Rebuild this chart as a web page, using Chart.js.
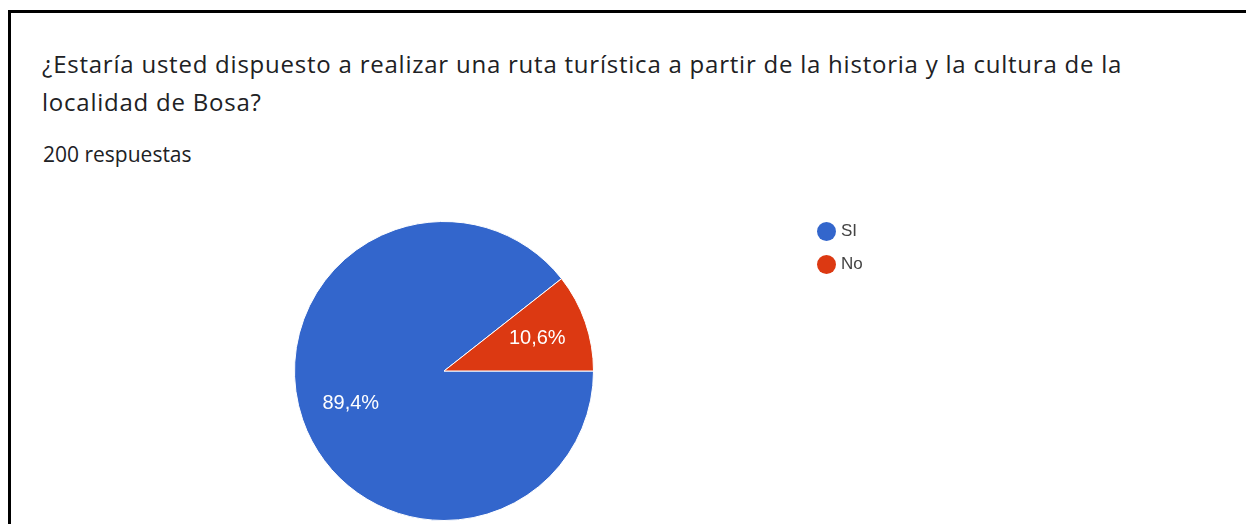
<!DOCTYPE html>
<html>
<head>
<meta charset="utf-8">
<script src="https://cdn.jsdelivr.net/npm/chart.js@4/dist/chart.umd.min.js"></script>
<style>
    html, body { margin: 0; padding: 0; background: #fff; }
    body { width: 1246px; height: 524px; position: relative; overflow: hidden; font-family: "Open Sans", sans-serif; }
    #marco { position: absolute; left: 8px; top: 10px; right: -10px; bottom: -10px; border-left: 3px solid #000; border-top: 3px solid #000; }
    #pregunta { position: absolute; left: 42px; top: 45px; font-size: 24px; line-height: 38px; letter-spacing: 0.77px; color: #202124; margin: 0; font-weight: normal; white-space: nowrap; }
    #respuestas { position: absolute; left: 43px; top: 139px; font-size: 21px; line-height: 30px; color: #202124; }
    #grafico { position: absolute; left: 0; top: 200px; width: 1246px; height: 324px; }
    #leyenda { position: absolute; left: 817px; top: 221px; font-family: "Liberation Sans", Arial, sans-serif; font-size: 17px; color: #444; }
    #leyenda div { display: flex; align-items: center; height: 20px; margin-bottom: 13px; }
    #leyenda span.punto { width: 19px; height: 19px; border-radius: 50%; margin-right: 5px; }
</style>
</head>
<body>
<div id="marco"></div>
<h1 id="pregunta"></h1>
<div id="respuestas"></div>
<div id="grafico"><canvas id="torta"></canvas></div>
<div id="leyenda"></div>
<script>
const pregunta = ['¿Estaría usted dispuesto a realizar una ruta turística a partir de la historia y la cultura de la', 'localidad de Bosa?'];
const total_respuestas = 200;
const etiquetas = ['SI', 'No'];
const porcentajes = [89.4, 10.6];
const colores = ['#3366cc', '#dc3912'];

window.onload = function() {
    document.getElementById('pregunta').innerHTML = pregunta.join('<br>');
    document.getElementById('respuestas').textContent = `${total_respuestas} respuestas`;

    const leyenda = document.getElementById('leyenda');
    etiquetas.forEach((etiqueta, i) => {
        const fila = document.createElement('div');
        const punto = document.createElement('span');
        punto.className = 'punto';
        punto.style.background = colores[i];
        fila.appendChild(punto);
        const texto = document.createElement('span');
        texto.textContent = etiqueta;
        fila.appendChild(texto);
        leyenda.appendChild(fila);
    });

    // porcentajes dentro de cada porcion
    const etiquetasPorcion = {
        id: 'etiquetasPorcion',
        afterDatasetsDraw(chart) {
            const ctx = chart.ctx;
            const datos = chart.data.datasets[0].data;
            const suma = datos.reduce((acc, v) => acc + v, 0);
            ctx.save();
            ctx.font = '20px "Liberation Sans", Arial, sans-serif';
            ctx.fillStyle = '#ffffff';
            ctx.textAlign = 'center';
            ctx.textBaseline = 'middle';
            chart.getDatasetMeta(0).data.forEach((arco, i) => {
                const p = arco.getProps(['x', 'y', 'startAngle', 'endAngle', 'outerRadius'], true);
                const medio = (p.startAngle + p.endAngle) / 2;
                const r = p.outerRadius * 0.66;
                const texto = (datos[i] / suma * 100).toFixed(1).replace('.', ',') + '%';
                ctx.fillText(texto, p.x + Math.cos(medio) * r, p.y + Math.sin(medio) * r);
            });
            ctx.restore();
        }
    };

    const ctx = document.getElementById('torta').getContext('2d');
    new Chart(ctx, {
        type: 'pie',
        data: {
            labels: etiquetas,
            datasets: [{
                data: porcentajes,
                backgroundColor: colores,
                borderColor: '#ffffff',
                borderWidth: 1
            }]
        },
        options: {
            responsive: true,
            maintainAspectRatio: false,
            animation: false,
            events: [],
            rotation: 90,  // la primera porcion empieza a las 3 en punto
            layout: {
                padding: { left: 294, right: 652, top: 21, bottom: 3 }
            },
            plugins: {
                legend: { display: false },
                tooltip: { enabled: false }
            }
        },
        plugins: [etiquetasPorcion]
    });
};
</script>
</body>
</html>
